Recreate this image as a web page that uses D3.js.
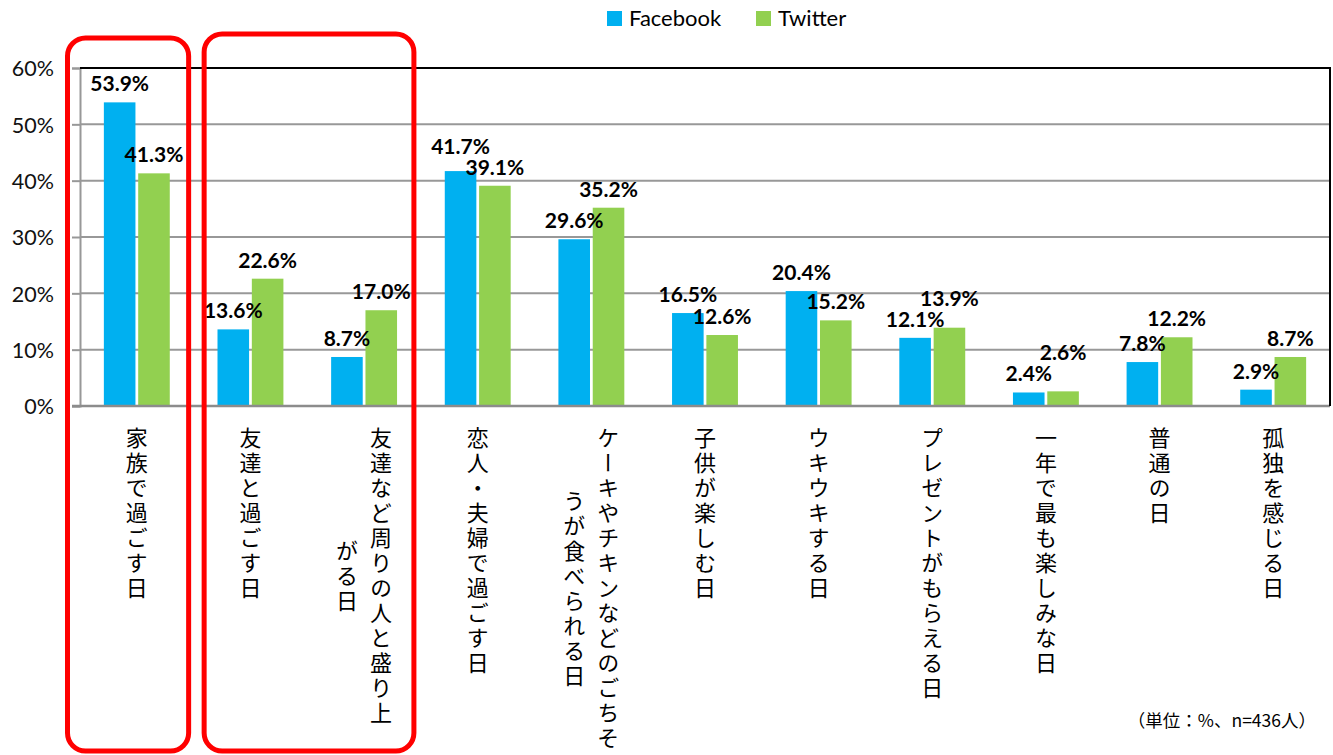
<!DOCTYPE html>
<html>
<head>
<meta charset="utf-8">
<script src="https://cdn.jsdelivr.net/npm/d3@7"></script>
<style>
  body { margin: 0; background: #fff; }
  svg { display: block; }
</style>
</head>
<body>
<div id="chart"></div>
<script>
// categories (vertical labels, "\n" = next column)
var categories = [
  "家族で過ごす日",
  "友達と過ごす日",
  "友達など周りの人と盛り上\nがる日",
  "恋人・夫婦で過ごす日",
  "ケーキやチキンなどのごちそ\nうが食べられる日",
  "子供が楽しむ日",
  "ウキウキする日",
  "プレゼントがもらえる日",
  "一年で最も楽しみな日",
  "普通の日",
  "孤独を感じる日"
];
var seriesNames = ["Facebook", "Twitter"];
var facebook = [53.9, 13.6, 8.7, 41.7, 29.6, 16.5, 20.4, 12.1, 2.4, 7.8, 2.9];
var twitter  = [41.3, 22.6, 17.0, 39.1, 35.2, 12.6, 15.2, 13.9, 2.6, 12.2, 8.7];
var yTicks = [0, 10, 20, 30, 40, 50, 60];
var highlightGroups = [[0, 0], [1, 2]];
var note = "（単位：%、n=436人）";

var W = 1333, H = 755;
var plot = {left: 80, right: 1330, top: 68, bottom: 406};
var colors = {Facebook: "#00B0F0", Twitter: "#92D050"};
var latin = "Lato, 'Open Sans', sans-serif";
var jp = "'Noto Sans CJK JP', sans-serif";

var svg = d3.select("#chart").append("svg")
  .attr("width", W)
  .attr("height", H);

var y = d3.scaleLinear().domain([0, 60]).range([plot.bottom, plot.top]);

var x0 = d3.scaleBand()
  .domain(d3.range(categories.length))
  .range([plot.left, plot.right])
  .paddingInner(0.42)
  .paddingOuter(0.21);

var x1 = d3.scaleBand()
  .domain(seriesNames)
  .range([0, x0.bandwidth()])
  .paddingInner(0.08);

var step = x0.step();

// gridlines
svg.append("g")
  .selectAll("line")
  .data(yTicks.filter(function(d) { return d > 0; }))
  .join("line")
    .attr("x1", plot.left)
    .attr("x2", plot.right)
    .attr("y1", function(d) { return y(d); })
    .attr("y2", function(d) { return y(d); })
    .attr("stroke", "#989898")
    .attr("stroke-width", 2);

// y axis
var yAxis = svg.append("g")
  .attr("transform", "translate(" + plot.left + ",0)")
  .call(d3.axisLeft(y).tickValues(yTicks).tickSize(8).tickPadding(18)
    .tickFormat(function(d) { return d + "%"; }));
yAxis.select(".domain").attr("stroke", "#989898").attr("stroke-width", 2);
yAxis.selectAll(".tick line").attr("stroke", "#989898").attr("stroke-width", 2);
yAxis.selectAll(".tick text")
  .attr("font-family", latin)
  .attr("font-size", 21.5)
  .attr("fill", "#111")
  .attr("dy", "0.36em");

// bars
var rows = categories.map(function(c, i) {
  return {i: i, values: [{k: "Facebook", v: facebook[i]}, {k: "Twitter", v: twitter[i]}]};
});

var groups = svg.append("g")
  .selectAll("g")
  .data(rows)
  .join("g")
    .attr("transform", function(d) { return "translate(" + x0(d.i) + ",0)"; });

groups.selectAll("rect")
  .data(function(d) { return d.values; })
  .join("rect")
    .attr("x", function(d) { return x1(d.k); })
    .attr("y", function(d) { return y(d.v); })
    .attr("width", x1.bandwidth())
    .attr("height", function(d) { return y(0) - y(d.v); })
    .attr("fill", function(d) { return colors[d.k]; });

// bottom axis + plot border
svg.append("line")
  .attr("x1", plot.left - 8).attr("x2", plot.right)
  .attr("y1", plot.bottom).attr("y2", plot.bottom)
  .attr("stroke", "#8c8c8c").attr("stroke-width", 2.5);
svg.append("path")
  .attr("d", "M" + plot.left + "," + plot.top + "H" + plot.right + "V" + plot.bottom)
  .attr("fill", "none")
  .attr("stroke", "#000")
  .attr("stroke-width", 2);

// value labels: just above the bar; when the pair collides, lift the taller one
var labelGap = 11, labelH = 17, labelW = 58;
rows.forEach(function(r) {
  var a = y(r.values[0].v) - labelGap, b = y(r.values[1].v) - labelGap;
  var dx = x1.step();
  if (dx < labelW && Math.abs(a - b) < labelH) {
    if (a < b) a = b - labelH - 4; else b = a - labelH - 4;
  }
  r.values[0].ly = a;
  r.values[1].ly = b;
});

groups.selectAll("text")
  .data(function(d) { return d.values; })
  .join("text")
    .attr("x", function(d) { return x1(d.k) + x1.bandwidth() / 2; })
    .attr("y", function(d) { return d.ly; })
    .attr("text-anchor", "middle")
    .attr("font-family", latin)
    .attr("font-weight", "bold")
    .attr("font-size", 21)
    .attr("fill", "#000")
    .text(function(d) { return d.v.toFixed(1) + "%"; });

// vertical category labels
var pitch = 25, colGap = 34, labelTop = 427;
categories.forEach(function(c, i) {
  var cols = c.split("\n");
  var longest = d3.max(cols, function(s) { return s.length; });
  var cx = x0(i) + x0.bandwidth() / 2;
  var cy = labelTop + longest * pitch / 2;
  svg.append("g")
    .selectAll("text")
    .data(cols)
    .join("text")
      .attr("x", function(s, j) { return cx + (cols.length - 1) * colGap / 2 - j * colGap; })
      .attr("y", cy)
      .attr("text-anchor", "middle")
      .style("writing-mode", "vertical-rl")
      .attr("font-family", jp)
      .attr("font-size", 22)
      .attr("letter-spacing", 3)
      .attr("fill", "#000")
      .text(function(s) { return s; });
});

// red highlight boxes
var boxInset = [[-12.5, -5], [10.5, -7]];
var boxTop = [38, 34];
svg.append("g")
  .selectAll("rect")
  .data(highlightGroups)
  .join("rect")
    .attr("x", function(d, k) { return x0(d[0]) - step * 0.21 + boxInset[k][0]; })
    .attr("y", function(d, k) { return boxTop[k]; })
    .attr("width", function(d, k) {
      return (x0(d[1]) + x0.bandwidth() + step * 0.21 + boxInset[k][1]) - (x0(d[0]) - step * 0.21 + boxInset[k][0]);
    })
    .attr("height", function(d, k) { return 751 - boxTop[k]; })
    .attr("rx", 18)
    .attr("fill", "none")
    .attr("stroke", "#FF0000")
    .attr("stroke-width", 5);

// legend
var legend = svg.append("g");
var legendX = [607, 756];
seriesNames.forEach(function(s, i) {
  legend.append("rect")
    .attr("x", legendX[i]).attr("y", 11)
    .attr("width", 15).attr("height", 15)
    .attr("fill", colors[s]);
  legend.append("text")
    .attr("x", legendX[i] + 22).attr("y", 26)
    .attr("font-family", latin)
    .attr("font-size", 22)
    .attr("fill", "#000")
    .text(s);
});

// note
svg.append("text")
  .attr("x", 1316).attr("y", 727)
  .attr("text-anchor", "end")
  .attr("font-family", jp)
  .attr("font-size", 17.5)
  .attr("fill", "#000")
  .text(note);
</script>
</body>
</html>
